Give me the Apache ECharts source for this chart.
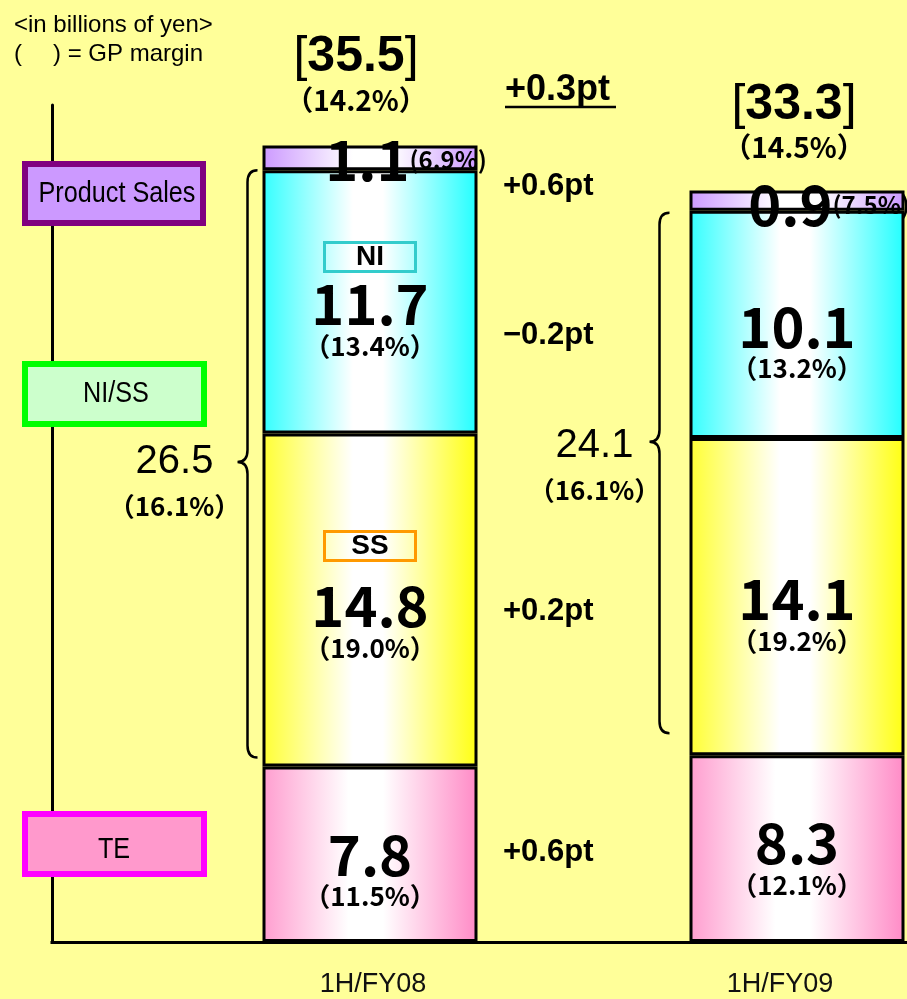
<!DOCTYPE html>
<html>
<head>
<meta charset="utf-8">
<script src="https://cdn.jsdelivr.net/npm/echarts@6/dist/echarts.min.js"></script>
<style>
  html, body { margin: 0; padding: 0; background: #FFFF99; }
  #chart { width: 907px; height: 999px; }
</style>
</head>
<body>
<div id="chart"></div>
<script>
// ---- data ----
const categories = ['1H/FY08', '1H/FY09'];
const teValues = [7.8, 8.3];
const ssValues = [14.8, 14.1];
const niValues = [11.7, 10.1];
const psValues = [1.1, 0.9];
const teMargins = ['11.5%', '12.1%'];
const ssMargins = ['19.0%', '19.2%'];
const niMargins = ['13.4%', '13.2%'];
const psMargins = ['6.9%', '7.5%'];
const totalValues = [35.5, 33.3];
const totalMargins = ['14.2%', '14.5%'];
const niSsValues = [26.5, 24.1];
const niSsMargins = ['16.1%', '16.1%'];
const totalChange = '+0.3pt';
const segmentChanges = ['+0.6pt', '\u22120.2pt', '+0.2pt', '+0.6pt']; // PS, NI, SS, TE
const legendNames = ['Product Sales', 'NI/SS', 'TE'];
const unitNote = '<in billions of yen>';
const marginNote = ') = GP margin';

// ---- styling ----
const JP = '"Noto Sans CJK JP", "Noto Sans", sans-serif';
const SANS = '"Liberation Sans", Arial, sans-serif';
const BAR_W = 215;
// plot area: category bands are 427px wide, the y axis sits left of the first band
const GRID_LEFT = 156.5, GRID_W = 854, AXIS_X = 52;
const categoryLabelPadding = [[0, 0, 0, 6], [0, 34, 0, 0]];

function hGrad(edgeL, edgeR, lo, hi) {
  return new echarts.graphic.LinearGradient(0, 0, 1, 0, [
    { offset: 0, color: edgeL },
    { offset: lo, color: '#FFFFFF' },
    { offset: hi, color: '#FFFFFF' },
    { offset: 1, color: edgeR }
  ]);
}

const RICH = {
  v: { fontFamily: JP, fontWeight: 'bold', fontSize: 56, lineHeight: 50, color: '#000' },
  p: { fontFamily: JP, fontWeight: 'bold', fontSize: 26, lineHeight: 34, color: '#000' },
  tagNI: { fontFamily: SANS, fontWeight: 'bold', fontSize: 28, color: '#000', width: 91, height: 29,
           lineHeight: 44, align: 'center', borderColor: '#33CCCC', borderWidth: 3 },
  tagSS: { fontFamily: SANS, fontWeight: 'bold', fontSize: 28, color: '#000', width: 91, height: 29,
           lineHeight: 70, align: 'center', borderColor: '#FF9900', borderWidth: 3 },
  sp: { width: 72, fontSize: 10 },
  ps: { fontFamily: JP, fontWeight: 'bold', fontSize: 24, color: '#000', lineHeight: 50 }
};

// label offsets per bar: [FY08, FY09]
const labelOffsets = {
  ps: [[0, 2], [-4, 4]],
  ni: [[0, -3], [0, 19]],
  ss: [[0, -12], [0, 19]],
  te: [[0, 17], [0, 11]]
};
const tagged = { ni: ['NI', null], ss: ['SS', null] };

function segLabel(key, i, v, m) {
  if (key === 'ps') {
    return `{sp| }{v|${v.toFixed(1)}}{ps|(${m})}`;
  }
  const tag = tagged[key] && tagged[key][i];
  const head = tag ? `{tag${tag}|${tag}}\n` : '';
  return `${head}{v|${v.toFixed(1)}}\n{p|\uFF08${m}\uFF09}`;
}

function barSeries(key, name, values, margins, color) {
  return {
    name, type: 'bar', stack: 'total', barWidth: BAR_W, z: 2,
    itemStyle: { color, borderColor: '#000', borderWidth: 3 },
    label: { show: true, position: 'inside', color: '#000', textBorderWidth: 0, rich: RICH },
    data: values.map((v, i) => ({
      value: v,
      label: { formatter: segLabel(key, i, v, margins[i]), offset: labelOffsets[key][i] }
    }))
  };
}

const totalOffsets = [[-14, 2], [-3, 0]];
const braceStyle = [
  { gap: 5, inset: [0, 9], cusp: 0.497, dx: 63, dy: 0 },
  { gap: 20, inset: [2, 22], cusp: 0.44, dx: 55, dy: 4 }
];

function boxText(text, x, y) {
  return { type: 'text', x, y, z: 11, scaleX: 0.84,
    style: { text, fontFamily: SANS, fontSize: 30, fill: '#000', align: 'center', verticalAlign: 'middle' } };
}
function noteText(text, x, y, size) {
  return { type: 'text', x, y, z: 10,
    style: { text, fontFamily: SANS, fontWeight: 'bold', fontSize: size, fill: '#000', verticalAlign: 'middle' } };
}

const chart = echarts.init(document.getElementById('chart'), null, { renderer: 'canvas' });

const option = {
  backgroundColor: '#FFFF99',
  animation: false,
  grid: { left: GRID_LEFT, width: GRID_W, top: 105, bottom: 57, outerBoundsMode: 'none', containLabel: false },
  xAxis: {
    type: 'category', boundaryGap: true,
    data: categories.map((c, i) => ({ value: c, textStyle: { padding: categoryLabelPadding[i] } })),
    axisLine: { onZero: false, lineStyle: { color: '#000', width: 3 } },
    axisTick: { show: false },
    splitLine: { show: false },
    axisLabel: { fontFamily: SANS, fontSize: 27, color: '#111', margin: 29 }
  },
  yAxis: {
    type: 'value', min: 0, max: 37.2, offset: GRID_LEFT - AXIS_X,
    axisLine: { show: true, onZero: false, lineStyle: { color: '#000', width: 3 } },
    axisTick: { show: false }, axisLabel: { show: false }, splitLine: { show: false }
  },
  series: [
    barSeries('te', 'TE', teValues, teMargins, hGrad('#FF9DCF', '#FF8AC6', 0.4, 0.56)),
    barSeries('ss', 'SS', ssValues, ssMargins, hGrad('#FFFF33', '#FFFF11', 0.42, 0.56)),
    barSeries('ni', 'NI', niValues, niMargins, hGrad('#33FFFF', '#22FFFF', 0.42, 0.56)),
    barSeries('ps', 'Product Sales', psValues, psMargins, hGrad('#CC99FF', '#CC99FF', 0.42, 0.6)),
    {
      type: 'scatter', symbolSize: 0, silent: true, z: 5,
      itemStyle: { color: '#000', opacity: 1 },
      label: {
        show: true, position: 'top', distance: 28, color: '#000', opacity: 1,
        rich: {
          b: { fontFamily: SANS, fontSize: 50, lineHeight: 52, color: '#000' },
          t: { fontFamily: SANS, fontWeight: 'bold', fontSize: 50, lineHeight: 52, color: '#000' },
          p: { fontFamily: JP, fontWeight: 'bold', fontSize: 28, lineHeight: 34, color: '#000' }
        }
      },
      data: totalValues.map((v, i) => ({
        value: [i, v],
        label: {
          formatter: `{b|[}{t|${v.toFixed(1)}}{b|]}\n{p|\uFF08${totalMargins[i]}\uFF09}`,
          offset: totalOffsets[i]
        }
      }))
    },
    {
      type: 'custom', silent: true, z: 4,
      data: categories.map((c, i) => [i, teValues[i], teValues[i] + ssValues[i] + niValues[i]]),
      renderItem(params, api) {
        const i = params.dataIndex;
        const st = braceStyle[i];
        const lo = api.coord([api.value(0), api.value(1)]);
        const hi = api.coord([api.value(0), api.value(2)]);
        const xr = lo[0] - BAR_W / 2 - st.gap;
        const xm = xr - 10, xl = xm - 10;
        const yTop = hi[1] + st.inset[0], yBot = lo[1] - st.inset[1];
        const yMid = yTop + (yBot - yTop) * st.cusp;
        const r = 12;
        const d = `M${xr},${yTop} Q${xm},${yTop} ${xm},${yTop + r} L${xm},${yMid - r} ` +
                  `Q${xm},${yMid} ${xl},${yMid} Q${xm},${yMid} ${xm},${yMid + r} ` +
                  `L${xm},${yBot - r} Q${xm},${yBot} ${xr},${yBot}`;
        const cx = xl - st.dx;
        return {
          type: 'group',
          children: [
            { type: 'path', shape: { pathData: d },
              style: { fill: 'none', stroke: '#000', lineWidth: 2.5 } },
            { type: 'text', x: cx, y: yMid + st.dy,
              style: { text: niSsValues[i].toFixed(1), fontFamily: SANS, fontSize: 40,
                       fill: '#000', align: 'center', verticalAlign: 'middle' } },
            { type: 'text', x: cx, y: yMid + st.dy + 44,
              style: { text: `\uFF08${niSsMargins[i]}\uFF09`, fontFamily: JP, fontWeight: 'bold',
                       fontSize: 26, fill: '#000', align: 'center', verticalAlign: 'middle' } }
          ]
        };
      }
    }
  ],
  graphic: [
    // baseline left of the first category band
    { type: 'line', z: 1, shape: { x1: AXIS_X - 1.5, y1: 942.5, x2: GRID_LEFT + 2, y2: 942.5 },
      style: { stroke: '#000', lineWidth: 3 } },
    // notes in the corner
    { type: 'text', x: 14, y: 25, z: 10,
      style: { text: unitNote, fontFamily: SANS, fontSize: 24, fill: '#000', verticalAlign: 'middle' } },
    { type: 'text', x: 14, y: 54, z: 10,
      style: { text: '(', fontFamily: SANS, fontSize: 24, fill: '#000', verticalAlign: 'middle' } },
    { type: 'text', x: 53, y: 54, z: 10,
      style: { text: marginNote, fontFamily: SANS, fontSize: 24, fill: '#000', verticalAlign: 'middle' } },
    // segment name boxes
    { type: 'rect', z: 10, shape: { x: 25, y: 164, width: 178, height: 59 },
      style: { fill: '#CC99FF', stroke: '#800080', lineWidth: 6 } },
    boxText(legendNames[0], 117, 194),
    { type: 'rect', z: 10, shape: { x: 25, y: 364, width: 179, height: 60 },
      style: { fill: '#CCFFCC', stroke: '#00FF00', lineWidth: 6 } },
    boxText(legendNames[1], 116, 394),
    { type: 'rect', z: 10, shape: { x: 25, y: 814, width: 179, height: 60 },
      style: { fill: '#FF99CC', stroke: '#FF00FF', lineWidth: 6 } },
    boxText(legendNames[2], 114, 850),
    // margin change notes
    noteText(totalChange, 505, 90, 36),
    { type: 'line', z: 10, shape: { x1: 505, y1: 107, x2: 616, y2: 107 },
      style: { stroke: '#000', lineWidth: 2.5 } },
    noteText(segmentChanges[0], 503, 186, 31),
    noteText(segmentChanges[1], 503, 335, 31),
    noteText(segmentChanges[2], 503, 611, 31),
    noteText(segmentChanges[3], 503, 852, 31)
  ]
};

chart.setOption(option);
</script>
</body>
</html>
